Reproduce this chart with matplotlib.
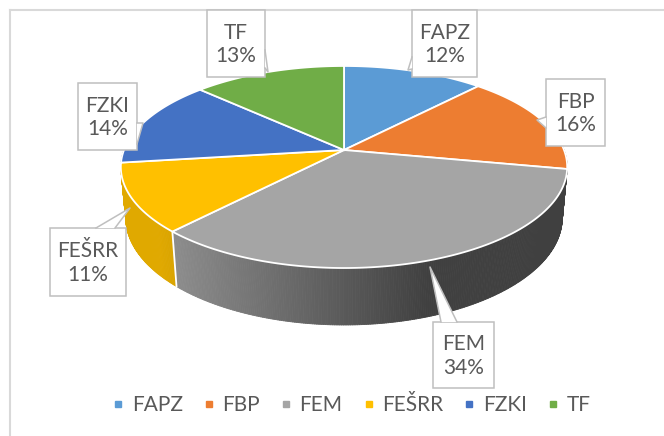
import numpy as np
import matplotlib
matplotlib.use('Agg')
import matplotlib.pyplot as plt
from matplotlib.patches import Polygon, Rectangle
from matplotlib.collections import PolyCollection
from matplotlib.lines import Line2D

plt.rcParams['font.family'] = ['Lato', 'DejaVu Sans']

names = ['FAPZ', 'FBP', 'FEM', 'FEŠRR', 'FZKI', 'TF']
shares = [12, 16, 34, 11, 14, 13]
colors = ['#5b9bd5', '#ed7d31', '#a5a5a5', '#ffc000', '#4472c4', '#70ad47']

# label callouts (pixel layout): box (x0, y0, x1, y1), tip, two base points
boxes = [(412, 10, 477, 77), (546, 79, 605, 146), (433, 322, 494, 388),
         (50, 228, 126, 296), (78, 83, 137, 150), (207, 10, 265, 77)]
tips = [(408, 70), (537, 120), (430, 267), (130, 208), (143, 123), (268, 72)]
bases = [((412, 57), (412, 69)), ((546, 117), (546, 128)), ((441, 322), (457, 322)),
         ((96, 228), (115, 228)), ((137, 123), (137, 144)), ((265, 50), (265, 68))]

# projection of the 3d pie
CX, CY, R = 344, 150, 220
alpha = np.radians(26.5)
D = 5.32
H = 0.26
sa, ca = np.sin(alpha), np.cos(alpha)


def proj(t, y):
    x3, z3 = np.sin(t), np.cos(t)
    up = z3 * sa + y * ca
    toward = y * sa - z3 * ca
    s = D / (D - toward)
    return CX + x3 * s * R, CY - up * s * R


def shade(c, f):
    rgb = np.array(matplotlib.colors.to_rgb(c))
    return tuple(rgb * f)


fig = plt.figure(figsize=(6.64, 4.36), dpi=100)
ax = fig.add_axes([0, 0, 1, 1])
ax.set_xlim(0, 664)
ax.set_ylim(436, 0)
ax.axis('off')

# chart frame
ax.plot([10, 664], [10, 10], color='#d9d9d9', lw=1.5, zorder=1)
ax.plot([10, 10], [10, 436], color='#d9d9d9', lw=1.5, zorder=1)

fr = np.array(shares) / np.sum(shares)
edges = np.concatenate([[0], np.cumsum(fr)]) * 2 * np.pi

# sides
quads, qcol, qz = [], [], []
for i in range(len(names)):
    a, b = edges[i], edges[i + 1]
    n = max(int((b - a) / np.radians(0.5)), 2)
    ts = np.linspace(a, b, n + 1)
    for t0, t1 in zip(ts[:-1], ts[1:]):
        tm = 0.5 * (t0 + t1)
        if np.cos(tm) > 0.15:
            continue
        p0, p1 = proj(t0, 0), proj(t1, 0)
        p2, p3 = proj(t1, -H), proj(t0, -H)
        nx = (0.5 * (p0[0] + p1[0]) - CX) / R
        f = np.clip(0.85 - 0.4 * (nx + 0.77), 0.39, 0.88)
        quads.append([p0, p1, p2, p3])
        qcol.append(shade(colors[i], f))
        qz.append(np.cos(tm))
order = np.argsort(qz)[::-1]
pc = PolyCollection([quads[k] for k in order], facecolors=[qcol[k] for k in order],
                    edgecolors=[qcol[k] for k in order], linewidths=0.6, zorder=2)
ax.add_collection(pc)

# white separators on the visible front side
for e in edges[1:-1]:
    if np.cos(e) < -0.3:
        x0, y0 = proj(e, 0)
        x1, y1 = proj(e, -H)
        ax.plot([x0, x1], [y0, y1], color='white', lw=1.3, zorder=3)

# top face
for i in range(len(names)):
    ts = np.linspace(edges[i], edges[i + 1], 200)
    pts = [proj(t, 0) for t in ts]
    poly = Polygon([(CX, CY)] + pts, closed=True, fc=colors[i], ec='white', lw=1.3, zorder=4)
    ax.add_patch(poly)

# callouts
for i in range(len(names)):
    x0, y0, x1, y1 = boxes[i]
    ax.add_patch(Rectangle((x0, y0), x1 - x0, y1 - y0, fc='white', ec='#bfbfbf', lw=1.1, zorder=5))
    b1, b2 = bases[i]
    ax.add_patch(Polygon([tips[i], b1, b2], closed=True, fc='white', ec='none', zorder=6))
    ax.plot([b1[0], tips[i][0], b2[0]], [b1[1], tips[i][1], b2[1]], color='#bfbfbf', lw=1.1, zorder=6)
    ax.text((x0 + x1) / 2, (y0 + y1) / 2 + 1, f"{names[i]}\n{shares[i]}%", ha='center', va='center',
            fontsize=15, color='#595959', linespacing=1.2, zorder=7)

handles = [Line2D([], [], marker='s', ls='', markersize=5, color=c) for c in colors]
ax.legend(handles, names, loc='center', bbox_to_anchor=(0.528, 1 - 405 / 436), ncol=6,
          frameon=False, fontsize=15, handlelength=0.7, handletextpad=0.3,
          columnspacing=0.9, labelcolor='#595959')

fig.savefig('out.png', dpi=100)
